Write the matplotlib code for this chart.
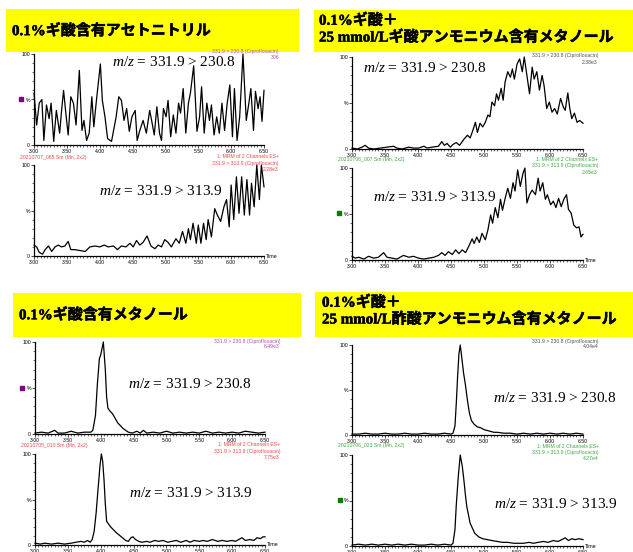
import matplotlib
matplotlib.use("Agg")
import matplotlib.pyplot as plt
import matplotlib.patheffects as pe
from matplotlib.patches import Rectangle
from matplotlib.ticker import MultipleLocator

plt.rcParams['font.family'] = ['Liberation Sans', 'Noto Sans CJK JP', 'DejaVu Sans']
plt.rcParams['mathtext.fontset'] = 'custom'
plt.rcParams['mathtext.rm'] = 'Liberation Serif'
plt.rcParams['mathtext.it'] = 'Liberation Serif:italic'

W, H = 633, 552

###########
# Data    #
###########

titles = ["0.1%ギ酸含有アセトニトリル",
          "0.1%ギ酸＋\n25 mmol/Lギ酸アンモニウム含有メタノール",
          "0.1%ギ酸含有メタノール",
          "0.1%ギ酸＋\n25 mmol/L酢酸アンモニウム含有メタノール"]
sample_ids = ["20210707_065 Sm (Mn, 2x2)", "20210706_007 Sm (Mn, 2x2)",
              "20210705_010 Sm (Mn, 2x2)", "20210706_023 Sm (Mn, 2x2)"]
max_230 = ["306", "2.38e3", "6.49e3", "4.04e4"]
max_313 = ["2.28e3", "2.65e3", "7.75e3", "4.27e4"]
label_230 = "331.9 > 230.8 (Ciprofloxacin)"
label_313 = "331.9 > 313.9 (Ciprofloxacin)"
channel = "1: MRM of 2 Channels ES+"
mz_230 = r"$m/z$ = 331.9 > 230.8"
mz_313 = r"$m/z$ = 331.9 > 313.9"

# acetonitrile, 331.9 > 230.8
acn_230_t = [3.00, 3.04, 3.08, 3.12, 3.15, 3.19, 3.23, 3.26, 3.30, 3.34,
             3.39, 3.42, 3.45, 3.49, 3.52, 3.56, 3.60, 3.64, 3.69, 3.73,
             3.76, 3.80, 3.84, 3.88, 3.91, 3.95, 4.01, 4.04, 4.08, 4.12,
             4.18, 4.25, 4.29, 4.33, 4.37, 4.41, 4.45, 4.49, 4.54, 4.57,
             4.61, 4.66, 4.71, 4.76, 4.79, 4.83, 4.87, 4.91, 4.94, 4.97,
             5.01, 5.04, 5.08, 5.12, 5.16, 5.20, 5.23, 5.27, 5.31, 5.35,
             5.38, 5.43, 5.48, 5.52, 5.55, 5.59, 5.63, 5.67, 5.70, 5.74,
             5.78, 5.82, 5.86, 5.90, 5.94, 5.98, 6.02, 6.05, 6.09, 6.13,
             6.18, 6.23, 6.27, 6.30, 6.34, 6.37, 6.41, 6.44, 6.47, 6.50]
acn_230_y = [57, 22, 46, 50, 5, 44, 29, 46, 4, 38,
             13, 38, 60, 31, 11, 53, 46, 22, 82, 16,
             27, 5, 13, 53, 20, 49, 89, 49, 31, 7,
             4, 31, 53, 49, 27, 40, 15, 31, 38, 5,
             16, 27, 13, 38, 27, 11, 42, 13, 5, 40,
             31, 49, 9, 33, 13, 46, 35, 62, 13, 46,
             57, 87, 15, 31, 64, 13, 46, 27, 44, 11,
             31, 13, 46, 16, 46, 66, 9, 62, 5, 31,
             100, 27, 46, 62, 16, 59, 40, 53, 26, 60]

# acetonitrile, 331.9 > 313.9
acn_313_t = [3.00, 3.04, 3.08, 3.13, 3.17, 3.22, 3.27, 3.32, 3.37, 3.42,
             3.47, 3.52, 3.56, 3.62, 3.70, 3.78, 3.85, 3.93, 4.00, 4.07,
             4.13, 4.21, 4.27, 4.33, 4.40, 4.46, 4.51, 4.56, 4.61, 4.66,
             4.72, 4.78, 4.84, 4.89, 4.94, 4.99, 5.04, 5.09, 5.16, 5.21,
             5.26, 5.31, 5.35, 5.38, 5.42, 5.47, 5.50, 5.54, 5.58, 5.62,
             5.65, 5.70, 5.75, 5.79, 5.84, 5.89, 5.93, 5.97, 6.00, 6.04,
             6.08, 6.12, 6.16, 6.20, 6.24, 6.28, 6.31, 6.35, 6.39, 6.43,
             6.46, 6.50]
acn_313_y = [12, 10, 4, 2, 7, 11, 5, 10, 12, 10,
             11, 16, 7, 7, 6, 5, 10, 11, 10, 12,
             10, 11, 7, 11, 10, 14, 10, 17, 12, 15,
             22, 11, 8, 12, 10, 18, 15, 10, 19, 14,
             27, 14, 30, 18, 36, 14, 34, 14, 36, 18,
             40, 21, 52, 45, 38, 54, 62, 32, 78, 40,
             87, 47, 87, 45, 84, 45, 80, 54, 100, 62,
             100, 76]

# formic acid + ammonium formate methanol, 331.9 > 230.8
amf_230_t = [3.00, 3.08, 3.15, 3.20, 3.25, 3.33, 3.43, 3.53, 3.63, 3.68,
             3.76, 3.86, 3.93, 4.01, 4.09, 4.14, 4.21, 4.31, 4.36, 4.40,
             4.44, 4.49, 4.53, 4.58, 4.63, 4.67, 4.70, 4.75, 4.79, 4.83,
             4.87, 4.90, 4.94, 4.98, 5.02, 5.06, 5.09, 5.12, 5.16, 5.19,
             5.22, 5.26, 5.29, 5.32, 5.36, 5.40, 5.43, 5.46, 5.50, 5.54,
             5.58, 5.61, 5.65, 5.69, 5.73, 5.76, 5.80, 5.84, 5.88, 5.91,
             5.95, 5.99, 6.03, 6.07, 6.11, 6.16, 6.20, 6.23, 6.27, 6.30,
             6.33, 6.37, 6.41, 6.45, 6.50]
amf_230_y = [1, 0, 2, 4, 1, 0, 1, 2, 3, 1,
             0, 2, 1, 1, 3, 1, 2, 3, 8, 4,
             6, 2, 5, 7, 4, 8, 11, 15, 12, 20,
             29, 18, 28, 24, 29, 37, 35, 51, 47, 60,
             53, 66, 53, 73, 84, 78, 87, 76, 92, 98,
             84, 100, 80, 60, 89, 76, 84, 64, 80, 69,
             44, 51, 40, 44, 38, 55, 46, 42, 61, 44,
             33, 39, 29, 31, 28]

# formic acid + ammonium formate methanol, 331.9 > 313.9
amf_313_t = [3.00, 3.05, 3.10, 3.18, 3.25, 3.33, 3.40, 3.48, 3.53, 3.61,
             3.68, 3.78, 3.86, 3.93, 4.01, 4.09, 4.16, 4.24, 4.31, 4.36,
             4.41, 4.46, 4.52, 4.57, 4.62, 4.67, 4.72, 4.77, 4.82, 4.85,
             4.89, 4.93, 4.97, 5.02, 5.06, 5.10, 5.13, 5.17, 5.21, 5.25,
             5.28, 5.32, 5.36, 5.40, 5.44, 5.47, 5.51, 5.55, 5.59, 5.62,
             5.65, 5.69, 5.73, 5.78, 5.82, 5.85, 5.89, 5.93, 5.96, 6.01,
             6.05, 6.09, 6.13, 6.17, 6.21, 6.25, 6.28, 6.32, 6.36, 6.40,
             6.44, 6.47, 6.50]
amf_313_y = [4, 2, 3, 1, 4, 2, 3, 8, 3, 2,
             1, 5, 3, 4, 2, 1, 2, 3, 5, 8,
             5, 9, 6, 11, 7, 11, 8, 15, 23, 18,
             25, 19, 29, 22, 33, 49, 40, 57, 46, 66,
             54, 67, 78, 67, 84, 75, 98, 80, 94, 100,
             62, 71, 76, 71, 89, 75, 84, 66, 71, 60,
             64, 57, 67, 58, 66, 71, 55, 51, 38, 35,
             36, 25, 28]

# formic acid methanol, 331.9 > 230.8
meoh_230_t = [3.00, 3.10, 3.20, 3.30, 3.35, 3.45, 3.55, 3.65, 3.75, 3.85,
              3.88, 3.92, 3.95, 3.98, 4.00, 4.04, 4.07, 4.09, 4.11, 4.14,
              4.18, 4.22, 4.26, 4.30, 4.34, 4.38, 4.42, 4.48, 4.55, 4.60,
              4.65, 4.70, 4.80, 4.90, 5.00, 5.10, 5.20, 5.30, 5.40, 5.50,
              5.60, 5.70, 5.80, 5.90, 6.00, 6.10, 6.20, 6.30, 6.40, 6.50]
meoh_230_y = [1, 2, 1, 4, 1, 1, 3, 1, 2, 2,
              4, 20, 55, 82, 86, 100, 70, 40, 28, 25,
              22, 17, 12, 9, 6, 4, 2, 1, 3, 1,
              4, 1, 2, 1, 3, 1, 2, 1, 2, 1,
              3, 1, 2, 1, 2, 1, 3, 2, 1, 2]

# formic acid methanol, 331.9 > 313.9
meoh_313_t = [3.00, 3.08, 3.15, 3.25, 3.35, 3.45, 3.55, 3.62, 3.70, 3.75,
              3.80, 3.84, 3.87, 3.90, 3.93, 3.96, 3.99, 4.01, 4.03, 4.05,
              4.07, 4.09, 4.12, 4.15, 4.19, 4.23, 4.28, 4.33, 4.38, 4.42,
              4.46, 4.49, 4.53, 4.58, 4.63, 4.70, 4.75, 4.82, 4.88, 4.95,
              5.02, 5.08, 5.15, 5.22, 5.30, 5.36, 5.42, 5.50, 5.56, 5.62,
              5.70, 5.78, 5.85, 5.92, 6.00, 6.05, 6.10, 6.15, 6.20, 6.27,
              6.33, 6.38, 6.43, 6.47, 6.50]
meoh_313_y = [2, 1, 2, 1, 2, 1, 2, 3, 4, 3,
              5, 3, 6, 15, 35, 62, 88, 100, 92, 72,
              45, 26, 23, 20, 17, 14, 11, 8, 5, 4,
              8, 9, 6, 4, 3, 4, 3, 5, 4, 5,
              3, 4, 5, 3, 5, 3, 5, 4, 5, 4,
              6, 4, 5, 4, 5, 4, 6, 8, 5, 6,
              5, 8, 7, 9, 9]

# formic acid + ammonium acetate methanol, 331.9 > 230.8
ama_230_t = [3.00, 3.10, 3.20, 3.30, 3.40, 3.50, 3.60, 3.70, 3.80, 3.90,
             4.00, 4.10, 4.20, 4.30, 4.40, 4.50, 4.53, 4.56, 4.58, 4.60,
             4.62, 4.64, 4.66, 4.69, 4.72, 4.75, 4.78, 4.81, 4.85, 4.90,
             4.95, 5.00, 5.05, 5.10, 5.15, 5.20, 5.30, 5.40, 5.50, 5.60,
             5.70, 5.80, 5.90, 6.00, 6.10, 6.20, 6.30, 6.40, 6.50]
ama_230_y = [1, 1, 2, 1, 1, 2, 1, 1, 2, 1,
             1, 2, 1, 1, 2, 1, 2, 10, 35, 65,
             90, 100, 88, 69, 55, 38, 24, 16, 12, 9,
             8, 6, 5, 4, 3, 3, 2, 2, 1, 2,
             1, 2, 1, 2, 1, 2, 1, 2, 1]

# formic acid + ammonium acetate methanol, 331.9 > 313.9
ama_313_t = [3.00, 3.10, 3.20, 3.30, 3.40, 3.50, 3.60, 3.70, 3.80, 3.90,
             4.00, 4.10, 4.20, 4.30, 4.40, 4.50, 4.53, 4.56, 4.58, 4.61,
             4.64, 4.67, 4.69, 4.72, 4.74, 4.79, 4.86, 4.92, 4.98, 5.05,
             5.12, 5.20, 5.28, 5.36, 5.45, 5.52, 5.60, 5.68, 5.75, 5.82,
             5.90, 5.97, 6.05, 6.12, 6.18, 6.23, 6.28, 6.33, 6.38, 6.44,
             6.50]
ama_313_y = [1, 2, 1, 2, 1, 2, 1, 2, 1, 2,
             1, 1, 2, 1, 2, 1, 3, 18, 45, 76,
             100, 88, 76, 55, 43, 25, 14, 10, 8, 7,
             6, 5, 4, 4, 3, 3, 3, 4, 3, 4,
             5, 4, 6, 5, 7, 9, 6, 8, 7, 8,
             7]

##########
# Layout #
##########

fig = plt.figure(figsize=(W / 100, H / 100), dpi=100)
fig.patch.set_facecolor("white")


def fx(x):
    return x / W


def fy(y):
    return 1 - y / H


def chromatogram(box, t, y, xlabel_time=False):
    left, top, right, bottom = box
    ax = fig.add_axes([fx(left), fy(bottom), fx(right - left), (bottom - top) / H])
    ax.plot(t, y, color="black", lw=0.9, clip_on=False)
    ax.set_xlim(3.0, 6.5)
    ax.set_ylim(0, 100)
    for s in ["top", "right"]:
        ax.spines[s].set_visible(False)
    for s in ["left", "bottom"]:
        ax.spines[s].set_linewidth(0.9)
    ax.set_xticks([3.0, 3.5, 4.0, 4.5, 5.0, 5.5, 6.0, 6.5])
    ax.set_xticklabels(["3.00", "3.50", "4.00", "4.50", "5.00", "5.50", "6.00", "6.50"])
    ax.xaxis.set_minor_locator(MultipleLocator(0.05))
    ax.set_yticks([0, 50, 100])
    ax.set_yticklabels(["0", "%", "100"])
    ax.yaxis.set_minor_locator(MultipleLocator(10))
    ax.tick_params(which="major", length=2, width=0.5, labelsize=3.7, pad=0.8)
    ax.tick_params(which="minor", length=1.2, width=0.4)
    ax.patch.set_alpha(0)
    if xlabel_time:
        ax.text(1.01, 0.0, "Time", transform=ax.transAxes, fontsize=3.8,
                ha="left", va="center")
    return ax


def ftext(x, y, s, **kw):
    return fig.text(fx(x), fy(y), s, **kw)


panels = [
    dict(box=(6, 9, 299, 52), title_xy=(12, 31),
         top=(34, 54, 264, 145), bot=(34, 165, 264, 256),
         data=(acn_230_t, acn_230_y, acn_313_t, acn_313_y),
         hdr_color="#f04848", top_color="#b050b0", right=279,
         top_lbl_y=51.5, hdr_y=157, sq=(21, 99, "#800080"),
         mz_top=(112, 62), mz_bot=(99, 191)),
    dict(box=(314, 10, 633, 52), title_xy=(319, 29),
         top=(352, 57, 583, 149), bot=(352, 168, 583, 260),
         data=(amf_230_t, amf_230_y, amf_313_t, amf_313_y),
         hdr_color="#40a840", top_color="#505050", right=598,
         top_lbl_y=56, hdr_y=159.5, sq=(339, 213, "#008000"),
         mz_top=(363, 68), mz_bot=(373, 197)),
    dict(box=(13, 293, 301, 337), title_xy=(19, 315),
         top=(35, 342, 265, 434), bot=(35, 454, 265, 545),
         data=(meoh_230_t, meoh_230_y, meoh_313_t, meoh_313_y),
         hdr_color="#f04848", top_color="#b050b0", right=280,
         top_lbl_y=341, hdr_y=445, sq=(22, 388, "#800080"),
         mz_top=(128, 384), mz_bot=(129, 493)),
    dict(box=(315, 292, 633, 337), title_xy=(322, 311),
         top=(352, 345, 583, 435), bot=(352, 455, 583, 546),
         data=(ama_230_t, ama_230_y, ama_313_t, ama_313_y),
         hdr_color="#40a840", top_color="#505050", right=599,
         top_lbl_y=341, hdr_y=446, sq=(340, 500, "#008000"),
         mz_top=(493, 398), mz_bot=(494, 504)),
]

mz_font = dict(family="Liberation Serif", fontsize=11, ha="left", va="center")
small = dict(fontsize=3.7)
bold_fx = [pe.withStroke(linewidth=0.35, foreground="black")]

for i, p in enumerate(panels):
    t1, y1, t2, y2 = p["data"]
    chromatogram(p["top"], t1, y1)
    chromatogram(p["bot"], t2, y2, xlabel_time=True)

    r = p["right"]
    ftext(r, p["top_lbl_y"], label_230, color=p["top_color"], ha="right", va="center", **small)
    ftext(r, p["top_lbl_y"] + 6, max_230[i], color=p["top_color"], ha="right", va="center", **small)
    hy = p["hdr_y"]
    ftext(p["top"][0] - 14, hy, sample_ids[i], color=p["hdr_color"], ha="left", va="center", **small)
    ftext(r, hy, channel, color=p["hdr_color"], ha="right", va="center", **small)
    ftext(r, hy + 6.3, label_313, color=p["hdr_color"], ha="right", va="center", **small)
    ftext(r, hy + 12.6, max_313[i], color=p["hdr_color"], ha="right", va="center", **small)

    sx, sy, sc = p["sq"]
    fig.add_artist(Rectangle((fx(sx - 2), fy(sy + 2)), 4 / W, 4 / H, color=sc,
                             transform=fig.transFigure))

    ftext(*p["mz_top"], mz_230, **mz_font)
    ftext(*p["mz_bot"], mz_313, **mz_font)

    x0, y0, x1, y1b = p["box"]
    fig.add_artist(Rectangle((fx(x0), fy(y1b)), (x1 - x0) / W, (y1b - y0) / H,
                             facecolor="#ffff00", edgecolor="none",
                             transform=fig.transFigure, zorder=2))
    ftext(*p["title_xy"], titles[i], family=["Liberation Serif", "Noto Sans CJK JP"],
          fontsize=10.8, fontweight="bold", ha="left", va="center",
          linespacing=1.2, zorder=3, path_effects=bold_fx)

fig.savefig("out.png", dpi=100, facecolor="white")
